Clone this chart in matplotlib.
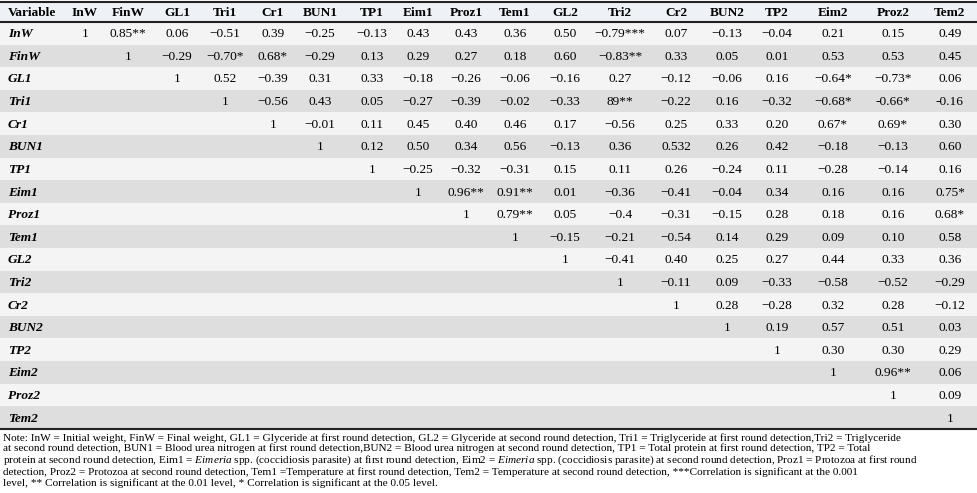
import matplotlib
matplotlib.use("Agg")
import matplotlib.pyplot as plt
from matplotlib.patches import Rectangle

variables = ["InW","FinW","GL1","Tri1","Cr1","BUN1","TP1","Eim1","Proz1","Tem1",
             "GL2","Tri2","Cr2","BUN2","TP2","Eim2","Proz2","Tem2"]
row_InW  = ["1","0.85**","0.06","\u22120.51","0.39","\u22120.25","\u22120.13","0.43","0.43","0.36","0.50","\u22120.79***","0.07","\u22120.13","\u22120.04","0.21","0.15","0.49"]
row_FinW = ["1","\u22120.29","\u22120.70*","0.68*","\u22120.29","0.13","0.29","0.27","0.18","0.60","\u22120.83**","0.33","0.05","0.01","0.53","0.53","0.45"]
row_GL1  = ["1","0.52","\u22120.39","0.31","0.33","\u22120.18","\u22120.26","\u22120.06","\u22120.16","0.27","\u22120.12","\u22120.06","0.16","\u22120.64*","\u22120.73*","0.06"]
row_Tri1 = ["1","\u22120.56","0.43","0.05","\u22120.27","\u22120.39","\u22120.02","\u22120.33","89**","\u22120.22","0.16","\u22120.32","\u22120.68*","-0.66*","-0.16"]
row_Cr1  = ["1","\u22120.01","0.11","0.45","0.40","0.46","0.17","\u22120.56","0.25","0.33","0.20","0.67*","0.69*","0.30"]
row_BUN1 = ["1","0.12","0.50","0.34","0.56","\u22120.13","0.36","0.532","0.26","0.42","\u22120.18","\u22120.13","0.60"]
row_TP1  = ["1","\u22120.25","\u22120.32","\u22120.31","0.15","0.11","0.26","\u22120.24","0.11","\u22120.28","\u22120.14","0.16"]
row_Eim1 = ["1","0.96**","0.91**","0.01","\u22120.36","\u22120.41","\u22120.04","0.34","0.16","0.16","0.75*"]
row_Proz1= ["1","0.79**","0.05","\u22120.4","\u22120.31","\u22120.15","0.28","0.18","0.16","0.68*"]
row_Tem1 = ["1","\u22120.15","\u22120.21","\u22120.54","0.14","0.29","0.09","0.10","0.58"]
row_GL2  = ["1","\u22120.41","0.40","0.25","0.27","0.44","0.33","0.36"]
row_Tri2 = ["1","\u22120.11","0.09","\u22120.33","\u22120.58","\u22120.52","\u22120.29"]
row_Cr2  = ["1","0.28","\u22120.28","0.32","0.28","\u22120.12"]
row_BUN2 = ["1","0.19","0.57","0.51","0.03"]
row_TP2  = ["1","0.30","0.30","0.29"]
row_Eim2 = ["1","0.96**","0.06"]
row_Proz2= ["1","0.09"]
row_Tem2 = ["1"]
rows = [row_InW,row_FinW,row_GL1,row_Tri1,row_Cr1,row_BUN1,row_TP1,row_Eim1,row_Proz1,
        row_Tem1,row_GL2,row_Tri2,row_Cr2,row_BUN2,row_TP2,row_Eim2,row_Proz2,row_Tem2]

note = ("Note: InW = Initial weight, FinW = Final weight, GL1 = Glyceride at first round detection, GL2 = Glyceride at second round detection, Tri1 = Triglyceride at first round detection,Tri2 = Triglyceride\n"
        "at second round detection, BUN1 = Blood urea nitrogen at first round detection,BUN2 = Blood urea nitrogen at second round detection, TP1 = Total protein at first round detection, TP2 = Total\n"
        "protein at second round detection, Eim1 = $\\it{Eimeria}$ spp. (coccidiosis parasite) at first round detection, Eim2 = $\\it{Eimeria}$ spp. (coccidiosis parasite) at second round detection, Proz1 = Protozoa at first round\n"
        "detection, Proz2 = Protozoa at second round detection, Tem1 =Temperature at first round detection, Tem2 = Temperature at second round detection, ***Correlation is significant at the 0.001\n"
        "level, ** Correlation is significant at the 0.01 level, * Correlation is significant at the 0.05 level.")

plt.rcParams['font.family'] = ['Liberation Serif']
plt.rcParams['mathtext.fontset'] = 'custom'
plt.rcParams['mathtext.it'] = 'Liberation Serif:italic'
plt.rcParams['mathtext.rm'] = 'Liberation Serif'

fig = plt.figure(figsize=(9.77, 4.93), dpi=100)
ax = fig.add_axes([0, 0, 1, 1])
ax.set_xlim(0, 977); ax.set_ylim(493, 0); ax.axis("off")

fs = 9.6
colx = [85,128,177,225,273,320,372,418,466,515,565,620,676,727,777,833,893,950]
top = 2; hh = 20; rh = 22.6
ax.add_patch(Rectangle((0, top), 977, hh, color="#eef1f5", lw=0))
ax.text(8, top+hh/2+1, "Variable", ha="left", va="center", fontsize=fs, fontweight="bold")
for x, v in zip(colx, variables):
    ax.text(x, top+hh/2+1, v, ha="center", va="center", fontsize=fs, fontweight="bold")
y0 = top+hh
for i, (v, r) in enumerate(zip(variables, rows)):
    y = y0 + i*rh
    ax.add_patch(Rectangle((0, y), 977, rh, color=("#f4f4f4" if i % 2 == 0 else "#dedede"), lw=0))
    yc = y + rh/2 + 1
    ax.text(8, yc, v, ha="left", va="center", fontsize=fs, fontweight="bold", style="italic")
    for j, val in enumerate(r):
        ax.text(colx[i+j], yc, val, ha="center", va="center", fontsize=fs)
yb = y0 + len(rows)*rh
ax.plot([0, 977], [top, top], color="#222", lw=1.5)
ax.plot([0, 977], [y0, y0], color="#222", lw=1.5)
ax.plot([0, 977], [yb, yb], color="#222", lw=1.5)
ax.text(3, yb+4, note, ha="left", va="top", fontsize=8.1, linespacing=1.08)
fig.savefig("out.png", dpi=100)
